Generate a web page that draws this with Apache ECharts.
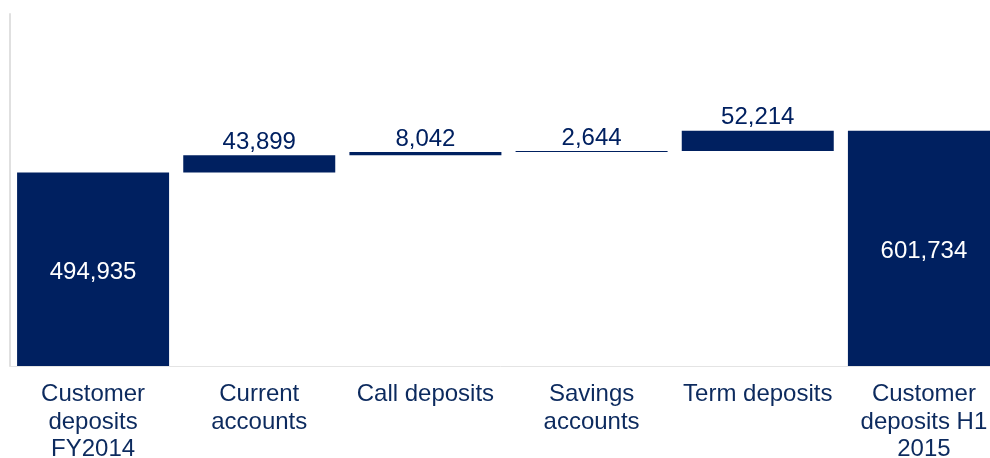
<!DOCTYPE html>
<html>
<head>
<meta charset="utf-8">
<script src="https://cdn.jsdelivr.net/npm/echarts@6/dist/echarts.min.js"></script>
<style>
html, body { margin: 0; padding: 0; background: #fff; overflow: hidden; }
#main { width: 990px; height: 458px; }
</style>
</head>
<body>
<div id="main"></div>
<script>
// 数据
var categories = ['Customer\ndeposits\nFY2014', 'Current\naccounts', 'Call deposits', 'Savings\naccounts', 'Term deposits', 'Customer\ndeposits H1\n2015'];
var values = [494935, 43899, 8042, 2644, 52214, 601734];
var isTotal = [true, false, false, false, false, true];

var navy = '#002060';

// 瀑布图：透明底座 + 可见柱
var baseData = [];
var barData = [];
var running = 0;
for (var i = 0; i < values.length; i++) {
    if (isTotal[i]) {
        baseData.push(0);
        running = values[i];
        barData.push({
            value: values[i],
            label: {show: true, position: 'inside', color: '#fff', offset: [0, 3]}
        });
    } else {
        baseData.push(running);
        running += values[i];
        barData.push({
            value: values[i],
            label: {show: true, position: 'top', color: navy, distance: 1}
        });
    }
}

var myChart = echarts.init(document.getElementById('main'));
var option = {
    animation: false,
    grid: {left: 10, width: 997, top: 14, height: 352, outerBoundsMode: 'none', containLabel: false},
    xAxis: {
        type: 'category',
        data: categories,
        axisLine: {show: true, lineStyle: {color: '#e4e4e4', width: 1}},
        axisTick: {show: false},
        axisLabel: {
            color: '#0c2a5e',
            fontFamily: 'Liberation Sans, Arial, sans-serif',
            fontSize: 24,
            lineHeight: 27.5,
            margin: 15,
            interval: 0
        }
    },
    yAxis: {
        type: 'value',
        min: 0,
        max: 900000,
        axisLine: {show: true, lineStyle: {color: '#e0e0e0', width: 2}},
        axisTick: {show: false},
        axisLabel: {show: false},
        splitLine: {show: false}
    },
    series: [{
        name: 'base',
        type: 'bar',
        stack: 'wf',
        data: baseData,
        itemStyle: {color: 'transparent'},
        barWidth: 152,
        silent: true
    }, {
        name: 'value',
        type: 'bar',
        stack: 'wf',
        data: barData,
        barWidth: 152,
        itemStyle: {color: navy},
        label: {
            fontFamily: 'Liberation Sans, Arial, sans-serif',
            fontSize: 24,
            formatter: function (p) {
                return p.value.toLocaleString('en-US');
            }
        }
    }]
};
myChart.setOption(option);
</script>
</body>
</html>
